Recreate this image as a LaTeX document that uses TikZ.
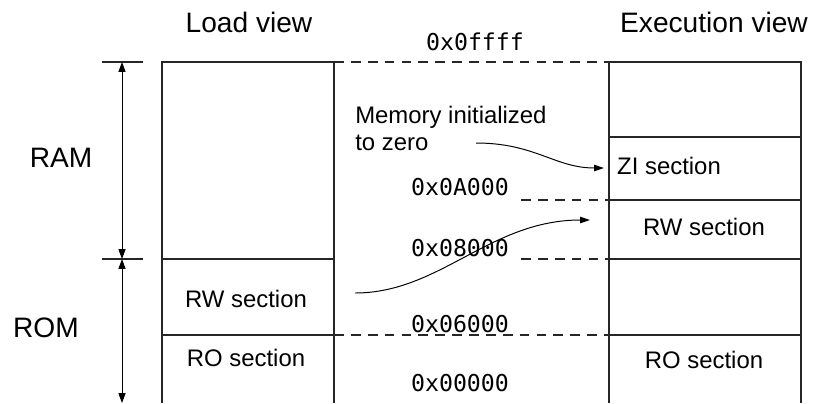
\documentclass[tikz,border=0pt]{standalone}
\usepackage{fontspec}
\setmainfont{Liberation Sans}
\newfontfamily\addrfont{DejaVu Sans Mono}
\usetikzlibrary{arrows.meta}

\tikzset{
  memline/.style={line width=0.8pt,black!85},
  addrline/.style={line width=0.8pt,black!85,dash pattern=on 7pt off 5pt},
  label/.style={font=\fontsize{17}{19}\selectfont,inner sep=0pt},
  title/.style={font=\fontsize{20}{24}\selectfont,inner sep=0pt},
  addr/.style={font=\addrfont\fontsize{16.5}{19}\selectfont,inner sep=0pt},
  tip/.style={-{Triangle[length=7pt,width=4.5pt]},line width=0.7pt},
  dimarrow/.style={{Triangle[length=7pt,width=5pt]}-{Triangle[length=7pt,width=5pt]},line width=0.7pt}
}

\begin{document}
\begin{tikzpicture}[x=0.025cm,y=-0.025cm]
        	\pgfmathsetmacro{\lx}{162}
        	\pgfmathsetmacro{\rx}{334}
        	\pgfmathsetmacro{\ex}{609}
        	\pgfmathsetmacro{\fx}{801}
        	\useasboundingbox (0,0) rectangle (820,403);

        	% both memory columns
        	\draw[memline] (\lx,403) -- (\lx,62) -- (\rx,62) -- (\rx,403);
        	\draw[memline] (\ex,403) -- (\ex,62) -- (\fx,62) -- (\fx,403);
        	\foreach \y in {259,335} {
        		\draw[memline] (\lx,\y) -- (\rx,\y);
        	};
        	\foreach \y in {137,200,259,335} {
        		\draw[memline] (\ex,\y) -- (\fx,\y);
        	};

        	% address boundaries
        	\draw[addrline] (\rx,62) -- (\ex,62);
        	\draw[addrline] (521,200) -- (\ex,200);
        	\draw[addrline] (521,259) -- (\ex,259);
        	\draw[addrline] (\rx,335) -- (\ex,335);

        	% RAM / ROM extent
        	\coordinate (ramtop) at (122,62);
        	\coordinate (ramrom) at (122,259);
        	\coordinate (rombot) at (122,403);
        	\foreach \y in {62,259} {
        		\draw[memline] (102,\y) -- (143,\y);
        	};
        	\draw[dimarrow] (ramtop) -- (ramrom);
        	\draw[dimarrow] (ramrom) -- (rombot);

        	\node[title] (loadview) at (249,22) {Load view};
        	\node[title] (execview) at (714,22) {Execution view};
        	\node[title] (ram) at (61,158) {RAM};
        	\node[title] (rom) at (46,328) {ROM};

        	\node[label] (rwload) at (246,299) {RW section};
        	\node[label] (roload) at (246,358) {RO section};
        	\node[label] (zisec) at (669,166) {ZI section};
        	\node[label] (rwexec) at (704,227) {RW section};
        	\node[label] (roexec) at (704,360) {RO section};
        	\node[label,align=left,anchor=north west] (zinote) at (355,106)
        	  {Memory initialized\\to zero};

        	\node[addr] (a0ffff) at (475,42) {0x0ffff};
        	\node[addr] (a0a000) at (460,187) {0x0A000};
        	\node[addr] (a08000) at (460,248) {0x08000};
        	\node[addr] (a06000) at (460,324) {0x06000};
        	\node[addr] (a00000) at (460,383) {0x00000};

        	% copy arrows
        	\coordinate (zifrom) at (476,143);
        	\coordinate (zito) at (604,168);
        	\coordinate (rwfrom) at (355,293);
        	\coordinate (rwto) at (590,220);
        	\draw[tip] (zifrom) .. controls (535,143) and (555,168) .. (zito);
        	\draw[tip] (rwfrom) .. controls (440,293) and (490,220) .. (rwto);
        \end{tikzpicture}
\end{document}
